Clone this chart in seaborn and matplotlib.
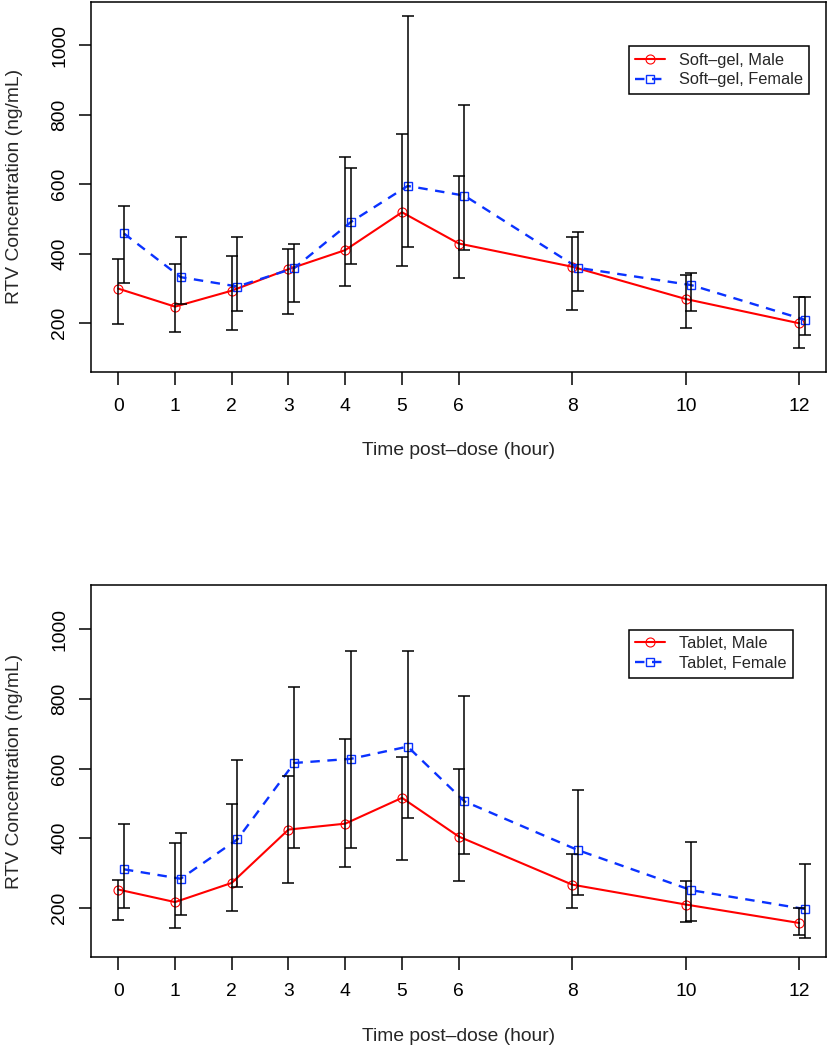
import matplotlib
matplotlib.use("Agg")
import matplotlib.pyplot as plt
import numpy as np
import pandas as pd
import seaborn as sns

# ---- data (ng/mL) ----
times = [0, 1, 2, 3, 4, 5, 6, 8, 10, 12]
tick_hours = [0, 1, 2, 3, 4, 5, 6, 8, 10, 12]

sg_male_mean = [299, 247, 293, 355, 410, 519, 429, 362, 269, 199]
sg_male_low = [198, 175, 179, 225, 306, 365, 330, 238, 184, 129]
sg_male_high = [384, 370, 393, 412, 679, 746, 624, 447, 338, 276]
sg_female_mean = [458, 332, 305, 358, 491, 595, 567, 359, 309, 209]
sg_female_low = [316, 254, 234, 260, 370, 420, 411, 293, 235, 166]
sg_female_high = [537, 447, 447, 429, 646, 1086, 828, 461, 343, 276]

tab_male_mean = [253, 217, 272, 425, 442, 516, 405, 267, 210, 157]
tab_male_low = [167, 144, 190, 272, 318, 339, 277, 199, 160, 122]
tab_male_high = [280, 386, 498, 580, 685, 634, 599, 354, 277, 200]
tab_female_mean = [311, 284, 397, 616, 628, 663, 506, 366, 251, 197]
tab_female_low = [199, 181, 259, 372, 372, 459, 354, 236, 163, 114]
tab_female_high = [440, 416, 626, 835, 936, 936, 809, 539, 389, 325]

FONT = ["Liberation Sans", "DejaVu Sans"]
RED = "#ff0000"
BLUE = "#0a32ff"
FEMALE_SHIFT = 0.1  # female points drawn slightly to the right


def make_frame(mean, low, high, sex):
    df = pd.DataFrame({"time": times, "conc": mean, "low": low, "high": high})
    df["sex"] = sex
    df["x"] = df["time"] + (FEMALE_SHIFT if sex == "Female" else 0.0)
    return df


def draw_panel(ax, form, male, female):
    sns.lineplot(data=male, x="x", y="conc", ax=ax, color=RED, linewidth=1.5,
                 marker="o", markersize=6.5, markerfacecolor="none",
                 markeredgecolor=RED, markeredgewidth=0.8,
                 label=f"{form}, Male", zorder=2)
    sns.lineplot(data=female, x="x", y="conc", ax=ax, color=BLUE, linewidth=1.7,
                 linestyle=(0, (4, 3.2)), marker="s", markersize=6,
                 markerfacecolor="none", markeredgecolor=BLUE, markeredgewidth=1.0,
                 label=f"{form}, Female", zorder=2)
    for df in (male, female):
        ax.errorbar(df["x"], df["conc"],
                    yerr=[df["conc"] - df["low"], df["high"] - df["conc"]],
                    fmt="none", ecolor="black", elinewidth=1.1,
                    capsize=4.3, capthick=1.1, zorder=3)

    ax.set_xlim(-0.48, 12.48)
    ax.set_ylim(58.6, 1126.6)
    ax.set_xticks(tick_hours)
    ax.set_xticklabels([str(t) for t in tick_hours])
    ax.set_yticks([200, 400, 600, 800, 1000])
    ax.set_xlabel("Time post\u2013dose (hour)", fontsize=13.9, family=FONT)
    ax.set_ylabel("RTV Concentration (ng/mL)", fontsize=13.9, family=FONT)
    ax.xaxis.set_label_coords(0.5, -0.19)
    ax.yaxis.set_label_coords(-0.092, 0.5)
    ax.tick_params(axis="both", direction="out", length=9, width=1.1,
                   color="black", labelsize=13.9, labelcolor="black")
    ax.tick_params(axis="x", pad=9.5)
    ax.tick_params(axis="y", pad=7.5)
    for lab in ax.get_yticklabels():
        lab.set_rotation(90)
        lab.set_va("center")
        lab.set_ha("right")
    for sp in ax.spines.values():
        sp.set_visible(True)
        sp.set_color("black")
        sp.set_linewidth(1.1)

    leg = ax.legend(loc="upper left", bbox_to_anchor=(0.731, 0.88),
                    prop={"family": FONT, "size": 11.8}, frameon=True,
                    fancybox=False, framealpha=1, edgecolor="black",
                    handlelength=1.8, handletextpad=0.85, labelspacing=0.3,
                    borderpad=0.4, borderaxespad=0, numpoints=1)
    leg.get_frame().set_linewidth(1.1)


sns.set_style("ticks")
plt.rcParams["font.family"] = FONT

sg_male = make_frame(sg_male_mean, sg_male_low, sg_male_high, "Male")
sg_female = make_frame(sg_female_mean, sg_female_low, sg_female_high, "Female")
tab_male = make_frame(tab_male_mean, tab_male_low, tab_male_high, "Male")
tab_female = make_frame(tab_female_mean, tab_female_low, tab_female_high, "Female")

W, H = 828, 1050
fig = plt.figure(figsize=(W / 100, H / 100), dpi=100)
left, right = 91 / W, 826.5 / W
ax1 = fig.add_axes([left, 1 - 372 / H, right - left, (372 - 1.5) / H])
ax2 = fig.add_axes([left, 1 - 957.3 / H, right - left, (957.3 - 585) / H])

draw_panel(ax1, "Soft\u2013gel", sg_male, sg_female)
draw_panel(ax2, "Tablet", tab_male, tab_female)

fig.savefig("out.png", dpi=100, facecolor="white")
